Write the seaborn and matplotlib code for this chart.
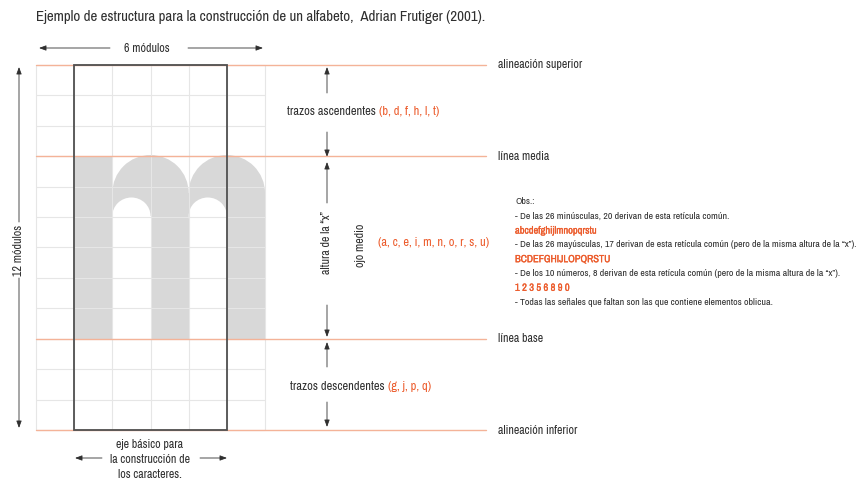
import matplotlib
matplotlib.use("Agg")
import matplotlib.pyplot as plt
import matplotlib.font_manager as fm
import matplotlib.patheffects as pe
from matplotlib.patches import Rectangle, Ellipse
import pandas as pd
import seaborn as sns

TITLE = "Ejemplo de estructura para la construcción de un alfabeto,  Adrian Frutiger (2001)."

# grid of the letter, in modules
N_COLS = 6
N_ROWS = 12
BOX_COLS = [1, 5]
GUIDE_LEVELS = [12, 9, 3, 0]
GUIDE_LABELS = ["alineación superior", "línea media", "línea base", "alineación inferior"]
STEM_COLS = [1, 3, 5]
ARCH_COLS = [2, 4]          # each arch spans two modules from here
COUNTER_COLS = [2, 4]

ASC_LETTERS = "(b, d, f, h, l, t)"
X_LETTERS = "(a, c, e, i, m, n, o, r, s, u)"
DESC_LETTERS = "(g, j, p, q)"
BASE_NOTE = ["eje básico para", "la construcción de", "los caracteres."]

OBS_LINES = [
    ("Obs.:", False),
    ("- De las 26 minúsculas, 20 derivan de esta retícula común.", False),
    ("abcdefghijlmnopqrstu", True),
    ("- De las 26 mayúsculas, 17 derivan de esta retícula común (pero de la misma altura de la \u201cx\u201d).", False),
    ("BCDEFGHIJLOPQRSTU", True),
    ("- De los 10 números, 8 derivan de esta retícula común (pero de la misma altura de la \u201cx\u201d).", False),
    ("1 2 3 5 6 8 9 0", True),
    ("- Todas las señales que faltan son las que contiene elementos oblicua.", False),
]

DARK = "#2f2f2f"
ORANGE = "#ec5b2b"
GUIDE = "#f4b398"
GRIDC = "#e6e6e6"
FILL = "#d8d8d8"

# pixel -> module conversion (picture is 863x479)
COL_PX, ROW_PX, X0, Y0 = 38.17, 30.42, 36, 430


def X(px):
    return (px - X0) / COL_PX


def Y(py):
    return (Y0 - py) / ROW_PX


# look for a narrow face, the original uses a condensed sans
font_name, font_stretch = "Roboto", "normal"
narrow = [f for f in fm.fontManager.ttflist
          if "Narrow" in f.name or "Condensed" in f.name
          or f.stretch in ("condensed", "semi-condensed")]
narrow.sort(key=lambda f: (0 if "Narrow" in f.name else 1, abs(f.weight - 400)))
if narrow:
    font_name, font_stretch = narrow[0].name, narrow[0].stretch

sns.set_theme(style="white")
plt.rcParams["font.family"] = [font_name, "DejaVu Sans"]
plt.rcParams["font.stretch"] = font_stretch

fig = plt.figure(figsize=(8.63, 4.79), dpi=100)
ax = fig.add_axes([0, 0, 1, 1])
ax.set_xlim(X(0), X(863))
ax.set_ylim(Y(479), Y(0))
ax.axis("off")

# scale all type so the title / longest note get the width they have in the picture
renderer = fig.canvas.get_renderer()
probe = ax.text(0, 0, TITLE, fontsize=10)
k = 451 / probe.get_window_extent(renderer).width
probe.set_text(OBS_LINES[3][0])
k_obs = 340 / probe.get_window_extent(renderer).width
probe.remove()


def fs(size):
    return size * k


# grey "m"
ax.add_patch(Rectangle((STEM_COLS[0], 3), 1, 6, color=FILL, lw=0, zorder=1))
arch_cy = Y(193)
for c in ARCH_COLS:
    ax.add_patch(Rectangle((c, 3), 2, arch_cy - 3, color=FILL, lw=0, zorder=1))
    ax.add_patch(Ellipse((c + 1, arch_cy), 2, 2 * 38 / ROW_PX, color=FILL, lw=0, zorder=1))
counter_cy = Y(216)
for c in COUNTER_COLS:
    ax.add_patch(Rectangle((c, 3), 1, counter_cy - 3, color="white", lw=0, zorder=2))
    ax.add_patch(Ellipse((c + 0.5, counter_cy), 1, 2 * 18.5 / ROW_PX, color="white", lw=0, zorder=2))

# module grid
ax.vlines(range(N_COLS + 1), 0, N_ROWS, color=GRIDC, lw=0.8, zorder=3)
ax.hlines(range(N_ROWS + 1), 0, N_COLS, color=GRIDC, lw=0.8, zorder=3)

# guide lines
guides = pd.DataFrame(
    [(x, lvl, lab) for lvl, lab in zip(GUIDE_LEVELS, GUIDE_LABELS) for x in (0, X(486))],
    columns=["x", "y", "guide"],
)
sns.lineplot(data=guides, x="x", y="y", units="guide", estimator=None,
             color=GUIDE, lw=1.0, legend=False, ax=ax, zorder=4)
ax.set_xlabel("")
ax.set_ylabel("")
for lvl, lab in zip(GUIDE_LEVELS, GUIDE_LABELS):
    ax.text(X(498), lvl, lab, color=DARK, fontsize=fs(8.0), ha="left", va="center")

# letter box
ax.add_patch(Rectangle((BOX_COLS[0], 0), BOX_COLS[1] - BOX_COLS[0], N_ROWS,
                       fill=False, ec="#505050", lw=1.3, zorder=5))


def arrow(x0, y0, x1, y1):
    ax.annotate("", xy=(x1, y1), xytext=(x0, y0),
                arrowprops=dict(arrowstyle="-|>,head_length=0.35,head_width=0.13",
                                color=DARK, lw=0.6, shrinkA=0, shrinkB=0))


def two_tone(x, y, dark, orange, size):
    t = ax.text(x, y, dark, color=DARK, fontsize=size, ha="left", va="center")
    ax.annotate(orange, xy=(1, 0), xycoords=t, ha="left", va="bottom",
                color=ORANGE, fontsize=size)


ax.text(X(36), Y(17), TITLE, color=DARK, fontsize=fs(10), ha="left", va="center")

# 6 modules
arrow(X(110), Y(48), X(39), Y(48))
arrow(X(188), Y(48), X(263), Y(48))
ax.text(X(147), Y(48), "6 módulos", color=DARK, fontsize=fs(8), ha="center", va="center")

# 12 modules
arrow(X(19), Y(222), X(19), Y(67))
arrow(X(19), Y(278), X(19), Y(428))
ax.text(X(19), Y(250), "12 módulos", color=DARK, fontsize=fs(8), ha="center",
        va="center", rotation=90)

# right hand measures
mx = X(327)
arrow(mx, Y(93), mx, Y(67))
arrow(mx, Y(132), mx, Y(157))
arrow(mx, Y(203), mx, Y(162))
arrow(mx, Y(305), mx, Y(337))
arrow(mx, Y(367), mx, Y(342))
arrow(mx, Y(402), mx, Y(427))
two_tone(X(287), Y(112), "trazos ascendentes ", ASC_LETTERS, fs(8.3))
two_tone(X(290), Y(387), "trazos descendentes ", DESC_LETTERS, fs(8.3))
ax.text(mx, Y(243), "altura de la \u201cx\u201d", color=DARK, fontsize=fs(8),
        ha="center", va="center", rotation=90)
ax.text(X(360), Y(245), "ojo medio", color=DARK, fontsize=fs(8),
        ha="center", va="center", rotation=90)
ax.text(X(378), Y(242), X_LETTERS, color=ORANGE, fontsize=fs(8.3), ha="left", va="center")

# base axis note
arrow(X(102), Y(458), X(75), Y(458))
arrow(X(200), Y(458), X(227), Y(458))
for i, line in enumerate(BASE_NOTE):
    ax.text(X(150), Y(445 + 14.5 * i), line, color=DARK, fontsize=fs(8), ha="center", va="center")

# observations
bold = [pe.withStroke(linewidth=0.2, foreground=ORANGE)]
for i, (line, hl) in enumerate(OBS_LINES):
    if hl:
        ax.text(X(515), Y(202 + 14.3 * i), line, color=ORANGE, fontsize=10.5 * k_obs,
                fontweight="bold", ha="left", va="center", path_effects=bold)
    else:
        ax.text(X(515), Y(202 + 14.3 * i), line, color=DARK, fontsize=10 * k_obs,
                ha="left", va="center")

fig.savefig("out.png", dpi=100)
